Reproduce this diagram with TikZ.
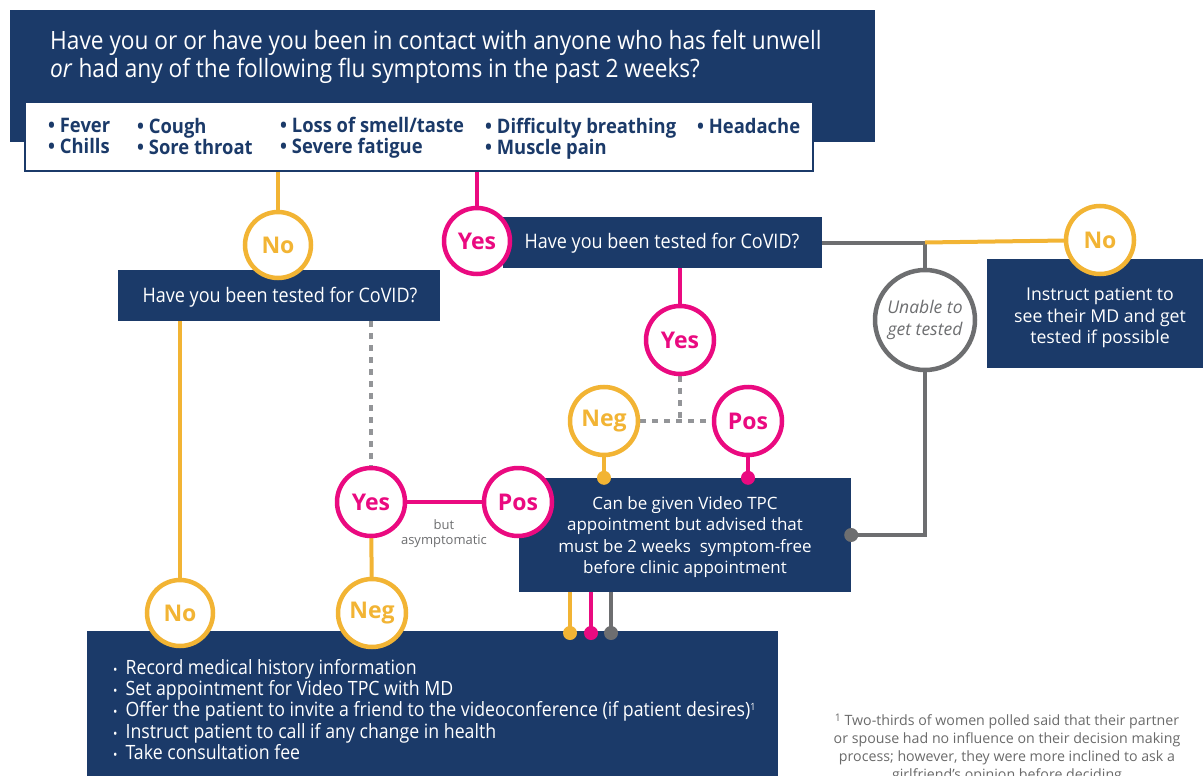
\documentclass[tikz,border=0pt]{standalone}
\usepackage{fontspec}
\setmainfont{Open Sans}
\newfontfamily\cond[FakeStretch=0.9]{Open Sans}
\newfontfamily\condb[FakeStretch=0.92]{Open Sans}
\definecolor{navy}{HTML}{1B3A69}
\definecolor{yl}{HTML}{F2B434}
\definecolor{pk}{HTML}{EA0A80}
\definecolor{gr}{HTML}{6D6E70}
\definecolor{lg}{HTML}{939598}
\definecolor{fn}{HTML}{6A6A6A}
\tikzset{
  darkbox/.style={fill=navy, draw=none, inner sep=0pt},
  whitetxt/.style={text=white, inner sep=0pt, align=center},
  ring/.style={circle, draw=#1, text=#1, fill=white, line width=4.5pt, minimum size=66pt, inner sep=0pt, font=\fontsize{23}{26}\selectfont\bfseries},
  conn/.style={draw=#1, line width=4pt},
  dotline/.style={draw=lg, line width=4.5pt, dash pattern=on 6pt off 6pt},
  enddot/.style={circle, fill=#1, minimum size=14pt, inner sep=0pt},
  symp/.style={anchor=base west, inner sep=0pt, text=navy, font=\condb\fontsize{20}{22}\selectfont\bfseries},
}
\newcommand{\bdot}{\hspace{3pt}{\fontsize{13}{21.3}\selectfont•}\hspace{8pt}}
\begin{document}
\begin{tikzpicture}[x=1pt,y=-1pt]
\useasboundingbox (0,0) rectangle (1203,776);
\clip (0,0) rectangle (1203,776);

% ---- boxes ----
\node[darkbox, minimum width=865pt, minimum height=132pt] (top) at (442.5,76) {};
\node[anchor=north west, inner sep=0pt, text=white, align=left, font=\cond\fontsize{25.2}{28}\selectfont] (toptxt) at (50,30)
  {Have you or or have you been in contact with anyone who has felt unwell\\\textit{or} had any of the following flu symptoms in the past 2 weeks?};
\node[fill=white, draw=navy, line width=2pt, minimum width=788pt, minimum height=69pt, inner sep=0pt] (sym) at (419,136.5) {};

\node[symp] (s1) at (48,132) {• Fever};
\node[symp] (s2) at (48,153) {• Chills};
\node[symp] (s3) at (137,133) {• Cough};
\node[symp] (s4) at (137,154) {• Sore throat};
\node[symp] (s5) at (280,132) {• Loss of smell/taste};
\node[symp] (s6) at (280,153) {• Severe fatigue};
\node[symp] (s7) at (485,133) {• Difficulty breathing};
\node[symp] (s8) at (485,154) {• Muscle pain};
\node[symp] (s9) at (697,133) {• Headache};

\node[darkbox, minimum width=322pt, minimum height=51pt] (qL) at (279,295.5) {};
\node[whitetxt, font=\cond\fontsize{20}{22}\selectfont] (qLt) at (280,297) {Have you been tested for CoVID?};
\node[darkbox, minimum width=319pt, minimum height=51pt] (qR) at (662.5,242.5) {};
\node[whitetxt, font=\cond\fontsize{20}{22}\selectfont] (qRt) at (662,243) {Have you been tested for CoVID?};

\node[darkbox, minimum width=216pt, minimum height=109pt] (instr) at (1095,313.5) {};
\node[whitetxt, font=\fontsize{17.7}{21.5}\selectfont] (instrt) at (1100,318)
  {Instruct patient to\\see their MD and get\\tested if possible};

\node[darkbox, minimum width=332pt, minimum height=114pt] (video) at (685,535) {};
\node[whitetxt, font=\fontsize{17}{21.3}\selectfont] (videot) at (685,537)
  {Can be given Video TPC\\appointment but advised that\\must be 2 weeks\ \ symptom-free\\before clinic appointment};

\node[darkbox, minimum width=691pt, minimum height=170pt] (bottom) at (432.5,716) {};
\node[anchor=north west, inner sep=0pt, text=white, align=left, font=\cond\fontsize{19.7}{21.3}\selectfont] (bottomt) at (110,659)
  {\bdot Record medical history information\\
   \bdot Set appointment for Video TPC with MD\\
   \bdot Offer the patient to invite a friend to the videoconference (if patient desires)\raisebox{6pt}{\fontsize{10}{10}\selectfont 1}\\
   \bdot Instruct patient to call if any change in health\\
   \bdot Take consultation fee};

\node[anchor=north, inner sep=0pt, text=fn, align=center, font=\fontsize{14.2}{18}\selectfont] (foot) at (1007,714)
  {\raisebox{4pt}{\fontsize{10.5}{10}\selectfont 1} Two-thirds of women polled said that their partner\\or spouse had no influence on their decision making\\process; however, they were more inclined to ask a\\girlfriend’s opinion before deciding};

% ---- circle positions (as coordinates for connectors) ----
\coordinate (cNoA) at (278,245);
\coordinate (cYesA) at (477,241);
\coordinate (cNoB) at (1100,240);
\coordinate (cUn) at (925,320);
\coordinate (cYesB) at (680,340);
\coordinate (cNegA) at (604,421);
\coordinate (cPosA) at (748,421);
\coordinate (cYesC) at (371,502);
\coordinate (cPosB) at (518,502);
\coordinate (cNoC) at (180,613);
\coordinate (cNegB) at (372,613);

% ---- connectors ----
\path[conn=yl] (cNoA |- sym.south) -- (cNoA);
\path[conn=pk] (cYesA |- sym.south) -- (cYesA);
\coordinate (j1) at (cUn |- qR.east);
\path[conn=gr] (qR.east) -- (j1) -- (cUn);
\path[conn=yl] (j1) -- (cNoB);
\path[conn=gr] (cUn) |- (video.east);
\node[enddot=gr] (dg) at (video.east) {};
\path[conn=pk] (cYesB |- qR.south) -- (cYesB);
\path[dotline] (cYesB) -- (cYesB |- cNegA);
\path[dotline] (cNegA) -- (cPosA);
\path[conn=yl] (cNegA) -- (cNegA |- video.north);
\node[enddot=yl] (dy1) at (cNegA |- video.north) {};
\path[conn=pk] (cPosA) -- (cPosA |- video.north);
\node[enddot=pk] (dp1) at (cPosA |- video.north) {};
\path[conn=yl] (cNoC |- qL.south) -- (cNoC);
\path[dotline] (cYesC |- qL.south) -- (cYesC);
\path[conn=pk] (cYesC) -- (cPosB);
\path[conn=yl] (cYesC) -- (cNegB);
\coordinate (b1) at (570,633);
\coordinate (b2) at (591,633);
\coordinate (b3) at (611,633);
\path[conn=yl] (b1 |- video.south) -- (b1);
\path[conn=pk] (b2 |- video.south) -- (b2);
\path[conn=gr] (b3 |- video.south) -- (b3);
\node[enddot=yl] (e1) at (b1) {};
\node[enddot=pk] (e2) at (b2) {};
\node[enddot=gr] (e3) at (b3) {};

\node[inner sep=0pt, text=gr, align=center, font=\fontsize{13}{15}\selectfont] (asym) at (444,534) {but\\asymptomatic};

% ---- circles ----
\node[ring=yl] (noA) at (cNoA) {No};
\node[ring=pk] (yesA) at (cYesA) {Yes};
\node[ring=yl, minimum size=68pt] (noB) at (cNoB) {No};
\node[ring=gr, minimum size=100pt, font=\fontsize{17.5}{22}\selectfont\itshape, align=center] (un) at (cUn) {Unable to\\get tested};
\node[ring=pk, minimum size=68pt] (yesB) at (cYesB) {Yes};
\node[ring=yl, minimum size=68pt] (negA) at (cNegA) {Neg};
\node[ring=pk, minimum size=68pt] (posA) at (cPosA) {Pos};
\node[ring=pk, minimum size=68pt] (yesC) at (cYesC) {Yes};
\node[ring=pk, minimum size=68pt] (posB) at (cPosB) {Pos};
\node[ring=yl] (noC) at (cNoC) {No};
\node[ring=yl, minimum size=68pt] (negB) at (cNegB) {Neg};
\end{tikzpicture}
\end{document}
